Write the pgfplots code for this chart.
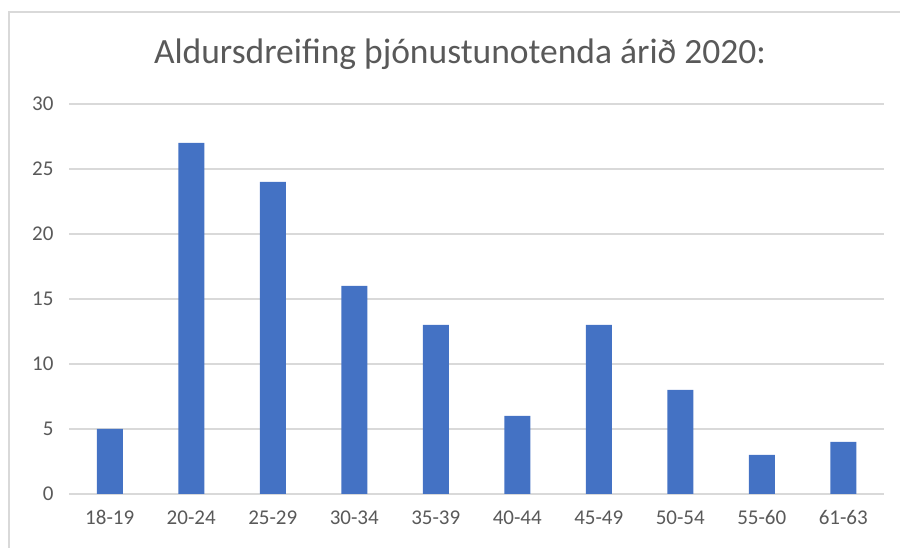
\documentclass[border=0pt]{standalone}
\usepackage{pgfplots}
\pgfplotsset{compat=1.18}
\usepackage{fontspec}
\setmainfont{Carlito}
\definecolor{barblue}{HTML}{4472C4}
\definecolor{gridgray}{HTML}{D9D9D9}
\definecolor{txtgray}{HTML}{595959}
\newcommand\tickfont{\fontsize{21bp}{25bp}\selectfont}
\begin{document}
\begin{tikzpicture}
\path[use as bounding box] (0,0) rectangle (900bp,548bp);
\draw[gridgray, line width=1.2bp] (9bp,-20bp) rectangle (920bp,536bp);
\begin{axis}[
  at={(69bp,54bp)}, anchor=south west,
  scale only axis, width=815bp, height=390bp,
  xmin=-0.5, xmax=9.5, ymin=0, ymax=30,
  ytick={0,5,...,30},
  xtick={0,...,9},
  xticklabels={18-19,20-24,25-29,30-34,35-39,40-44,45-49,50-54,55-60,61-63},
  axis line style={draw=none},
  major tick length=0pt,
  ymajorgrids, grid style={gridgray, line width=1.2bp},
  /pgf/number format/assume math mode=true,
  every tick label/.append style={font=\tickfont, text=txtgray},
  yticklabel style={xshift=-12bp},
  xticklabel style={yshift=-13bp},
  ybar, bar width=26bp,
]
\addplot[fill=barblue, draw=none] coordinates {(0,5) (1,27) (2,24) (3,16) (4,13) (5,6) (6,13) (7,8) (8,3) (9,4)};
\end{axis}
\node[text=txtgray, font=\fontsize{35.5bp}{42bp}\selectfont, anchor=base] at (460bp,484bp) {Aldursdreifing þjónustunotenda árið 2020:};
\end{tikzpicture}
\end{document}
